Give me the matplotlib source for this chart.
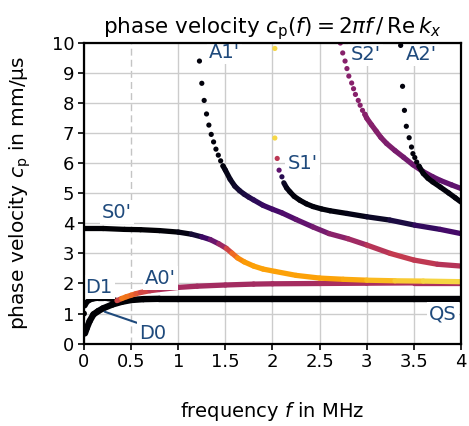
import matplotlib
matplotlib.use('Agg')
import matplotlib.pyplot as plt
from matplotlib.collections import LineCollection
import numpy as np

# ---------------- data ----------------
# colour value = position on the inferno colormap (attenuation)

# D0 -> QS (black)
d0_f = [0.01, 0.03, 0.06, 0.1, 0.15, 0.2, 0.3, 0.4, 0.5, 0.63, 0.8, 1.0, 1.5, 2.0, 2.5, 3.0, 3.5, 4.0]
d0_c = [0.34, 0.52, 0.75, 0.97, 1.08, 1.17, 1.30, 1.39, 1.45, 1.48, 1.49, 1.49, 1.49, 1.49, 1.49, 1.49, 1.49, 1.49]
d0_a = [0.0] * len(d0_f)

# D1 (black) -> continues as A0'
d1_f = [0.01, 0.03, 0.06, 0.1, 0.15, 0.2, 0.25, 0.3, 0.35]
d1_c = [1.26, 1.38, 1.45, 1.49, 1.51, 1.51, 1.50, 1.47, 1.43]
d1_a = [0.0] * len(d1_f)

# A0'
a0_f = [0.35, 0.4, 0.45, 0.5, 0.55, 0.6, 0.7, 0.8, 1.0, 1.2, 1.5, 1.8, 2.0, 2.5, 3.0, 3.5, 4.0]
a0_c = [1.43, 1.50, 1.56, 1.61, 1.66, 1.70, 1.76, 1.80, 1.87, 1.91, 1.95, 1.98, 1.99, 2.00, 2.01, 2.02, 2.02]
a0_a = [0.42, 0.70, 0.70, 0.68, 0.64, 0.60, 0.53, 0.48, 0.45, 0.44, 0.44, 0.44, 0.44, 0.45, 0.46, 0.46, 0.46]

# S0'
s0_f = [0.0, 0.2, 0.43, 0.6, 0.8, 1.0, 1.14, 1.25, 1.34, 1.43, 1.51, 1.57, 1.63, 1.7, 1.8, 1.9, 2.03, 2.25, 2.5, 2.75, 3.0, 3.3, 3.6, 4.0]
s0_c = [3.83, 3.83, 3.80, 3.79, 3.76, 3.71, 3.64, 3.55, 3.46, 3.32, 3.17, 3.01, 2.85, 2.72, 2.58, 2.48, 2.40, 2.27, 2.18, 2.14, 2.11, 2.09, 2.08, 2.06]
s0_a = [0.0, 0.0, 0.0, 0.0, 0.01, 0.02, 0.05, 0.14, 0.24, 0.35, 0.50, 0.62, 0.72, 0.77, 0.79, 0.79, 0.79, 0.79, 0.79, 0.8, 0.82, 0.86, 0.89, 0.9]

# A1' : separated dots near cut-off, then smooth branch
a1_dot_f = [1.225, 1.25, 1.275, 1.3, 1.325, 1.35, 1.375, 1.4, 1.425, 1.45, 1.475]
a1_dot_c = [9.40, 8.66, 8.09, 7.64, 7.27, 6.96, 6.71, 6.47, 6.27, 6.08, 5.91]
a1_dot_a = [0.02] * len(a1_dot_f)
a1_f = [1.475, 1.5, 1.55, 1.6, 1.65, 1.7, 1.75, 1.8, 1.9, 2.0, 2.1, 2.25, 2.43, 2.6, 2.8, 3.0, 3.25, 3.5, 3.75, 4.0]
a1_c = [5.91, 5.77, 5.47, 5.24, 5.09, 4.97, 4.87, 4.78, 4.60, 4.47, 4.35, 4.13, 3.88, 3.66, 3.49, 3.28, 3.00, 2.78, 2.64, 2.58]
a1_a = [0.02, 0.03, 0.05, 0.07, 0.09, 0.11, 0.12, 0.14, 0.17, 0.2, 0.22, 0.25, 0.3, 0.35, 0.4, 0.46, 0.52, 0.52, 0.5, 0.47]

# S1'
s1_dot_f = [2.025, 2.025, 2.05, 2.07, 2.10]
s1_dot_c = [9.82, 6.84, 6.16, 5.77, 5.55]
s1_dot_a = [0.9, 0.9, 0.5, 0.27, 0.14]
s1_f = [2.12, 2.15, 2.185, 2.23, 2.29, 2.36, 2.43, 2.52, 2.61, 2.79, 3.0, 3.245, 3.51, 3.78, 4.0]
s1_c = [5.35, 5.18, 5.05, 4.90, 4.77, 4.65, 4.56, 4.48, 4.42, 4.33, 4.22, 4.11, 3.94, 3.80, 3.66]
s1_a = [0.08, 0.05, 0.03, 0.02, 0.02, 0.02, 0.02, 0.02, 0.02, 0.03, 0.05, 0.09, 0.14, 0.19, 0.23]

# S2'
s2_dot_f = [2.72, 2.745, 2.77, 2.79, 2.81, 2.84, 2.86, 2.88, 2.91, 2.93, 2.955, 2.98]
s2_dot_c = [10.0, 9.67, 9.40, 9.15, 8.90, 8.67, 8.48, 8.29, 8.09, 7.93, 7.76, 7.63]
s2_dot_a = [0.37] * len(s2_dot_f)
s2_f = [2.98, 3.0, 3.05, 3.1, 3.15, 3.21, 3.3, 3.39, 3.49, 3.6, 3.7, 3.78, 3.9, 4.0]
s2_c = [7.63, 7.50, 7.28, 7.07, 6.86, 6.66, 6.42, 6.20, 5.95, 5.72, 5.55, 5.43, 5.28, 5.16]
s2_a = [0.37, 0.37, 0.37, 0.36, 0.36, 0.35, 0.34, 0.33, 0.31, 0.3, 0.29, 0.28, 0.27, 0.27]

# A2'
a2_dot_f = [3.36, 3.38, 3.40, 3.42, 3.45, 3.475, 3.49, 3.51, 3.53, 3.555]
a2_dot_c = [9.92, 8.56, 7.76, 7.23, 6.85, 6.54, 6.32, 6.19, 6.04, 5.90]
a2_dot_a = [0.02] * len(a2_dot_f)
a2_f = [3.555, 3.6, 3.65, 3.7, 3.78, 3.87, 3.94, 4.0]
a2_c = [5.90, 5.66, 5.50, 5.38, 5.21, 5.01, 4.85, 4.71]
a2_a = [0.02] * len(a2_f)

# mode labels
labels = ["A1'", "S2'", "A2'", "S1'", "S0'", "A0'", "D1", "QS"]
label_f = [1.49, 2.99, 3.58, 2.32, 0.35, 0.81, 0.16, 3.81]
label_c = [9.69, 9.62, 9.62, 6.0, 4.37, 2.18, 1.88, 1.0]

xticks = [0, 0.5, 1, 1.5, 2, 2.5, 3, 3.5, 4]
xticklabels = ['0', '0.5', '1', '1.5', '2', '2.5', '3', '3.5', '4']
yticks = list(range(0, 11))

# ---------------- drawing ----------------
plt.rcParams['font.family'] = ['DejaVu Sans']
plt.rcParams['mathtext.fontset'] = 'dejavusans'

cmap = plt.get_cmap('inferno')
LW = 3.8
MS = 14
TXT = '#1f4a7c'

fig = plt.figure(figsize=(4.69, 4.26), dpi=100)
ax = fig.add_axes([0.1791, 0.1934, 0.8038, 0.7056])


def line(f, c, a, lw=LW):
    pts = np.column_stack([f, c])
    segs = np.stack([pts[:-1], pts[1:]], axis=1)
    av = 0.5 * (np.asarray(a[:-1]) + np.asarray(a[1:]))
    lc = LineCollection(segs, colors=cmap(av), linewidths=lw,
                        capstyle='round', joinstyle='round', zorder=3)
    ax.add_collection(lc)


def dots(f, c, a, s=MS):
    ax.scatter(f, c, c=cmap(np.asarray(a)), s=s, linewidths=0, zorder=3)


line(d1_f, d1_c, d1_a)
line(d0_f, d0_c, d0_a, lw=4.6)
line(a0_f, a0_c, a0_a)
line(s0_f, s0_c, s0_a)
dots(a1_dot_f, a1_dot_c, a1_dot_a)
line(a1_f, a1_c, a1_a)
dots(s1_dot_f, s1_dot_c, s1_dot_a)
line(s1_f, s1_c, s1_a)
dots(s2_dot_f, s2_dot_c, s2_dot_a)
line(s2_f, s2_c, s2_a)
dots(a2_dot_f, a2_dot_c, a2_dot_a)
line(a2_f, a2_c, a2_a)
dots([0.0, 0.0], [1.0, 0.34], [0.0, 0.0], s=18)

ax.set_xlim(0, 4)
ax.set_ylim(0, 10)
ax.set_xticks(xticks)
ax.set_xticklabels(xticklabels)
ax.set_yticks(yticks)
ax.tick_params(labelsize=13, direction='out', length=4, width=1.2, pad=3)
ax.grid(True, color='#cccccc', lw=1.0, zorder=0)
gl = ax.xaxis.get_gridlines()
gl[1].set_linestyle((0, (5, 3)))
gl[1].set_color('#c4c4c4')
ax.set_axisbelow(True)
for sp in ax.spines.values():
    sp.set_linewidth(1.6)
    sp.set_zorder(5)

bbox = dict(boxstyle='square,pad=0.12', fc='white', ec='none')
for t, x, y in zip(labels, label_f, label_c):
    ax.text(x, y, t, color=TXT, fontsize=14, ha='center', va='center',
            bbox=bbox, zorder=4)
ax.annotate('D0', xy=(0.22, 1.06), xytext=(0.73, 0.35), color=TXT, fontsize=14,
            ha='center', va='center', bbox=bbox, zorder=4,
            arrowprops=dict(arrowstyle='-', color=TXT, lw=1.5,
                            shrinkA=0, shrinkB=0, relpos=(0.0, 1.0)))

ax.set_title(r'phase velocity $c_\mathrm{p}(f) = 2\pi f\,/\,\mathrm{Re}\,k_x$',
             fontsize=15.5, pad=7)
ax.set_xlabel(r'frequency $f$ in MHz', fontsize=14)
ax.set_ylabel(r'phase velocity $c_\mathrm{p}$ in mm/μs', fontsize=14.5)
ax.xaxis.set_label_coords(0.5, -0.2275)
ax.xaxis.label.set_va('center')
ax.yaxis.set_label_coords(-0.170, 0.5)
ax.yaxis.label.set_va('center')

fig.savefig('out.png', dpi=100)
